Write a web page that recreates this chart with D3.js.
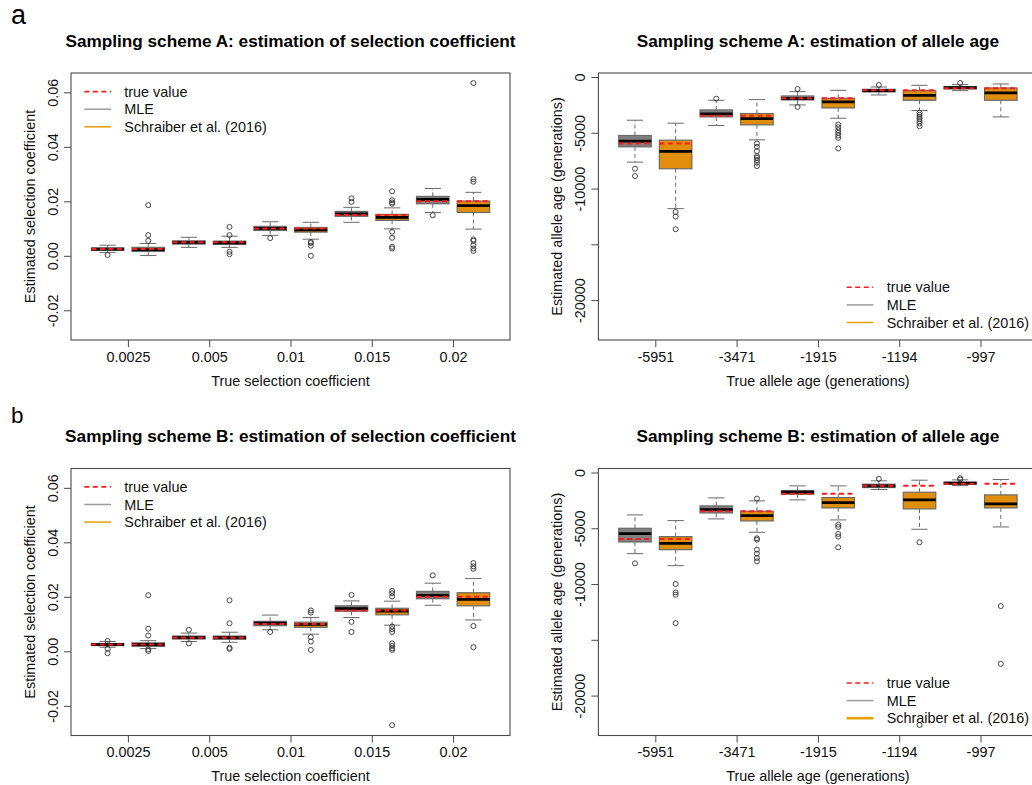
<!DOCTYPE html>
<html>
<head>
<meta charset="utf-8">
<script src="https://cdn.jsdelivr.net/npm/d3@7"></script>
<style>
  html, body { margin: 0; padding: 0; background: #fff; }
  svg { display: block; font-family: "Liberation Sans", Arial, sans-serif; }
</style>
</head>
<body>
<svg id="chart" width="1032" height="785"></svg>
<script>
// ---- categories and tick labels ----
const selCategories = ["0.0025", "0.005", "0.01", "0.015", "0.02"];
const selTrue = [0.0025, 0.005, 0.01, 0.015, 0.02];
const ageCategories = ["-5951", "-3471", "-1915", "-1194", "-997"];
const ageTrue = [-5951, -3471, -1915, -1194, -997];

const selTicks = [-0.02, 0, 0.02, 0.04, 0.06];
const selTickLabels = ["-0.02", "0.00", "0.02", "0.04", "0.06"];
const ageTicks = [0, -5000, -10000, -15000, -20000];
const ageTickLabels = ["0", "-5000", "-10000", "", "-20000"];

const selDomain = [-0.0309, 0.0671];
const ageDomain = [-23580, 360];

const legendLabels = ["true value", "MLE", "Schraiber et al. (2016)"];

// ---- box statistics: [lower whisker, Q1, median, Q3, upper whisker] ----
// Scheme A, selection coefficient
const selA_mle = [
  [0.00125, 0.0020, 0.00246, 0.0029, 0.0039],
  [0.0031, 0.0043, 0.0049, 0.0055, 0.0068],
  [0.0075, 0.0093, 0.0101, 0.0108, 0.0125],
  [0.0123, 0.0145, 0.0154, 0.0163, 0.0178],
  [0.0159, 0.0191, 0.0207, 0.0218, 0.0247]
];
const selA_mleOut = [[0.0003], [], [0.0065], [0.0198, 0.0211], [0.0149]];
const selA_sch = [
  [0.0001, 0.0016, 0.0023, 0.0031, 0.0045],
  [0.0031, 0.0042, 0.0048, 0.0054, 0.0072],
  [0.0061, 0.0087, 0.0095, 0.0104, 0.0123],
  [0.0099, 0.0130, 0.0141, 0.0152, 0.0176],
  [0.0098, 0.0159, 0.0184, 0.0201, 0.0233]
];
const selA_schOut = [
  [0.0055, 0.0076, 0.0186],
  [0.0006, 0.0015, 0.0076, 0.0106],
  [0.0, 0.0037, 0.0047, 0.0051],
  [0.0027, 0.0033, 0.0066, 0.0088, 0.0191, 0.0196, 0.0204, 0.0237],
  [0.0018, 0.0027, 0.0039, 0.0055, 0.0060, 0.0272, 0.0281, 0.0634]
];

// Scheme A, allele age
const ageA_mle = [
  [-7629, -6258, -5751, -5245, -3874],
  [-4351, -3576, -3308, -2950, -2086],
  [-2503, -2056, -1907, -1699, -1311],
  [-1609, -1341, -1222, -1103, -894],
  [-1222, -1073, -954, -864, -685]
];
const ageA_mleOut = [[-8880, -8225], [-1937], [-2682, -1073], [-715], [-536]];
const ageA_sch = [
  [-11801, -8225, -6675, -5662, -4142],
  [-5632, -4291, -3725, -3278, -2026],
  [-3695, -2771, -2235, -1907, -1192],
  [-3010, -2086, -1639, -1222, -745],
  [-3576, -2086, -1430, -983, -626]
];
const ageA_schOut = [
  [-13648, -12516, -12099],
  [-7986, -7688, -7450, -7241, -7092, -6645, -6258, -5960],
  [-6407, -5453, -5245, -5006, -4768, -4500, -4261],
  [-4410, -4172, -3963, -3755, -3576, -3397, -3218],
  []
];

// Scheme B, selection coefficient
const selB_mle = [
  [0.0015, 0.0021, 0.0025, 0.0028, 0.0036],
  [0.0036, 0.0045, 0.0050, 0.0056, 0.0067],
  [0.0079, 0.0094, 0.0103, 0.0110, 0.0133],
  [0.0124, 0.0147, 0.0157, 0.0167, 0.0185],
  [0.0169, 0.0193, 0.0205, 0.0220, 0.0250]
];
const selB_mleOut = [[-0.0007, 0.0010, 0.0038], [0.0029, 0.0079], [0.0071], [0.0071, 0.0108, 0.0207], [0.0279]];
const selB_sch = [
  [0.0010, 0.0018, 0.0025, 0.0031, 0.0039],
  [0.0033, 0.0044, 0.0050, 0.0056, 0.0070],
  [0.0063, 0.0088, 0.0099, 0.0107, 0.0124],
  [0.0096, 0.0134, 0.0148, 0.0158, 0.0184],
  [0.0115, 0.0167, 0.0191, 0.0215, 0.0267]
];
const selB_schOut = [
  [0.0001, 0.0007, 0.0058, 0.0083, 0.0206],
  [0.0009, 0.0013, 0.0103, 0.0187],
  [0.0005, 0.0036, 0.0052, 0.0142, 0.0150],
  [-0.0271, 0.0005, 0.0011, 0.0020, 0.0029, 0.0071, 0.0081, 0.0091, 0.0201, 0.0213, 0.0222],
  [0.0015, 0.0093, 0.0303, 0.0312, 0.0324]
];

// Scheme B, allele age
const ageB_mle = [
  [-7275, -6228, -5479, -5000, -3802],
  [-4162, -3623, -3323, -2994, -2275],
  [-2455, -1946, -1766, -1617, -1198],
  [-1527, -1347, -1198, -1048, -749],
  [-1168, -1048, -958, -868, -659]
];
const ageB_mleOut = [[-8144], [], [], [-569], [-629, -509]];
const ageB_sch = [
  [-8353, -6916, -6347, -5748, -4311],
  [-5359, -4341, -3862, -3473, -2545],
  [-4251, -3174, -2695, -2246, -1198],
  [-5090, -3263, -2455, -1766, -689],
  [-4880, -3174, -2814, -2006, -629]
];
const ageB_schOut = [
  [-13503, -10958, -10748, -10000],
  [-7964, -7665, -7275, -6916, -6018, -5898, -2335],
  [-6707, -5748, -5509, -4880, -4671],
  [-22635, -6257],
  [-17156, -11976]
];

// ---- drawing ----
const svg = d3.select("#chart");
const FONT = 14.4;
const PW = 439, PH = 267;
const COL = {
  mleFill: "#808080", schFill: "#E08E0B", border: "#6a6a6a",
  red: "#ff1a1a", frame: "#4a4a4a", legendGrey: "#9a9a9a", legendOrange: "#E69F00"
};

function drawPanel(cfg) {
  const g = svg.append("g").attr("transform", `translate(${cfg.x0},${cfg.y0})`);
  const x = d3.scaleLinear().domain([0.1, 10.9]).range([0, PW]);
  const y = d3.scaleLinear().domain(cfg.domain).range([PH, 0]);

  // title
  g.append("text")
    .attr("x", PW / 2).attr("y", -26.5)
    .attr("text-anchor", "middle")
    .attr("font-weight", "bold").attr("font-size", 17.2)
    .text(cfg.title);

  // x axis
  const xAxis = d3.axisBottom(x)
    .tickValues(cfg.categories.map((_, i) => 2 * i + 1.5))
    .tickFormat((_, i) => cfg.categories[i])
    .tickSize(7).tickPadding(4.5);
  const gx = g.append("g").attr("transform", `translate(0,${PH})`).call(xAxis);
  gx.select(".domain").remove();
  gx.selectAll("line").attr("stroke", COL.frame);
  gx.selectAll("text").attr("font-size", FONT).attr("fill", "#111").attr("font-family", null);

  // y axis with labels parallel to the axis
  const yAxis = d3.axisLeft(y)
    .tickValues(cfg.ticks)
    .tickFormat((_, i) => cfg.tickLabels[i])
    .tickSize(7);
  const gy = g.append("g").call(yAxis);
  gy.select(".domain").remove();
  gy.selectAll("line").attr("stroke", COL.frame);
  gy.selectAll("text")
    .attr("x", 0).attr("dy", 0)
    .attr("transform", "translate(-13,0) rotate(-90)")
    .attr("text-anchor", "middle")
    .attr("font-size", FONT).attr("fill", "#111").attr("font-family", null);

  // axis titles
  g.append("text")
    .attr("x", PW / 2).attr("y", PH + 45.5)
    .attr("text-anchor", "middle").attr("font-size", FONT).attr("fill", "#111")
    .text(cfg.xTitle);
  g.append("text")
    .attr("transform", `translate(-36.3,${PH / 2}) rotate(-90)`)
    .attr("text-anchor", "middle").attr("font-size", FONT).attr("fill", "#111")
    .text(cfg.yTitle);

  // boxes
  const boxW = x(1.8) - x(1);
  const series = [
    { stats: cfg.mle, out: cfg.mleOut, fill: COL.mleFill, offset: 1 },
    { stats: cfg.sch, out: cfg.schOut, fill: COL.schFill, offset: 2 }
  ];
  series.forEach(s => {
    s.stats.forEach((st, i) => {
      const cx = x(2 * i + s.offset);
      const [lo, q1, med, q3, hi] = st;
      const b = g.append("g");
      // whiskers
      b.append("line").attr("x1", cx).attr("x2", cx).attr("y1", y(q3)).attr("y2", y(hi))
        .attr("stroke", COL.border).attr("stroke-dasharray", "4,3");
      b.append("line").attr("x1", cx).attr("x2", cx).attr("y1", y(q1)).attr("y2", y(lo))
        .attr("stroke", COL.border).attr("stroke-dasharray", "4,3");
      [lo, hi].forEach(v => {
        b.append("line").attr("x1", cx - boxW / 4).attr("x2", cx + boxW / 4)
          .attr("y1", y(v)).attr("y2", y(v)).attr("stroke", COL.border);
      });
      // box
      b.append("rect").attr("x", cx - boxW / 2).attr("width", boxW)
        .attr("y", y(q3)).attr("height", Math.max(0.5, y(q1) - y(q3)))
        .attr("fill", s.fill).attr("stroke", COL.border).attr("stroke-width", 1.2);
      // median
      b.append("line").attr("x1", cx - boxW / 2).attr("x2", cx + boxW / 2)
        .attr("y1", y(med)).attr("y2", y(med)).attr("stroke", "#000").attr("stroke-width", 2.8);
      // outliers
      b.selectAll("circle").data(s.out[i]).join("circle")
        .attr("cx", cx).attr("cy", v => y(v)).attr("r", 2.5)
        .attr("fill", "none").attr("stroke", "#333").attr("stroke-width", 0.9);
      // true value
      b.append("line").attr("x1", cx - boxW / 2).attr("x2", cx + boxW / 2)
        .attr("y1", y(cfg.truth[i])).attr("y2", y(cfg.truth[i]))
        .attr("stroke", COL.red).attr("stroke-width", 2).attr("stroke-dasharray", "5,3.5");
    });
  });

  // frame
  g.append("rect").attr("width", PW).attr("height", PH)
    .attr("fill", "none").attr("stroke", COL.frame).attr("stroke-width", 1.1);

  // legend
  const lg = g.append("g").attr("transform", `translate(${cfg.legendX},${cfg.legendY})`);
  const styles = [
    { stroke: COL.red, dash: "5,3.5", w: 1.6 },
    { stroke: COL.legendGrey, dash: null, w: 1.5 },
    { stroke: COL.legendOrange, dash: null, w: cfg.legendOrangeW }
  ];
  legendLabels.forEach((lab, i) => {
    const ly = i * 17.6;
    lg.append("line").attr("x1", 0).attr("x2", 26.7).attr("y1", ly).attr("y2", ly)
      .attr("stroke", styles[i].stroke).attr("stroke-width", styles[i].w)
      .attr("stroke-dasharray", styles[i].dash);
    lg.append("text").attr("x", 40).attr("y", ly).attr("dy", "0.35em")
      .attr("font-size", FONT).attr("fill", "#111").text(lab);
  });
}

const selX = "True selection coefficient", selY = "Estimated selection coefficient";
const ageX = "True allele age (generations)", ageY = "Estimated allele age (generations)";

drawPanel({ x0: 71, y0: 73, domain: selDomain, ticks: selTicks, tickLabels: selTickLabels,
  categories: selCategories, truth: selTrue, mle: selA_mle, mleOut: selA_mleOut, sch: selA_sch, schOut: selA_schOut,
  title: "Sampling scheme A: estimation of selection coefficient", xTitle: selX, yTitle: selY,
  legendX: 13.3, legendY: 18.6, legendOrangeW: 1.5 });
drawPanel({ x0: 598.4, y0: 73, domain: ageDomain, ticks: ageTicks, tickLabels: ageTickLabels,
  categories: ageCategories, truth: ageTrue, mle: ageA_mle, mleOut: ageA_mleOut, sch: ageA_sch, schOut: ageA_schOut,
  title: "Sampling scheme A: estimation of allele age", xTitle: ageX, yTitle: ageY,
  legendX: 248.3, legendY: 214.3, legendOrangeW: 1.5 });
drawPanel({ x0: 71, y0: 468.5, domain: selDomain, ticks: selTicks, tickLabels: selTickLabels,
  categories: selCategories, truth: selTrue, mle: selB_mle, mleOut: selB_mleOut, sch: selB_sch, schOut: selB_schOut,
  title: "Sampling scheme B: estimation of selection coefficient", xTitle: selX, yTitle: selY,
  legendX: 13.3, legendY: 18.4, legendOrangeW: 1.5 });
drawPanel({ x0: 598.4, y0: 468.5, domain: ageDomain, ticks: ageTicks, tickLabels: ageTickLabels,
  categories: ageCategories, truth: ageTrue, mle: ageB_mle, mleOut: ageB_mleOut, sch: ageB_sch, schOut: ageB_schOut,
  title: "Sampling scheme B: estimation of allele age", xTitle: ageX, yTitle: ageY,
  legendX: 248.3, legendY: 214.5, legendOrangeW: 2.6 });

// panel letters
svg.append("text").attr("x", 11).attr("y", 24).attr("font-size", 27).text("a");
svg.append("text").attr("x", 11).attr("y", 423.3).attr("font-size", 22.5).text("b");
</script>
</body>
</html>
